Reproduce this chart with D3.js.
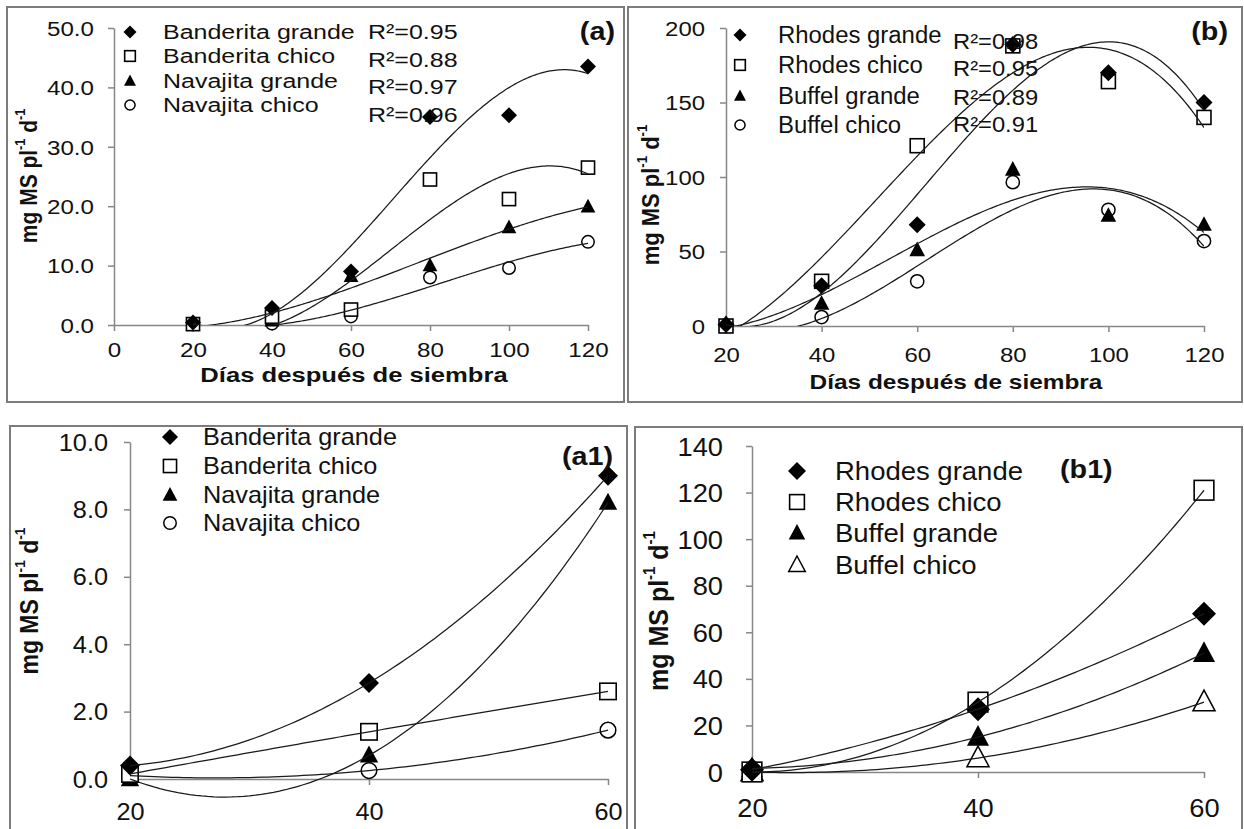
<!DOCTYPE html>
<html>
<head>
<meta charset="utf-8">
<script src="https://cdn.jsdelivr.net/npm/d3@7"></script>
<style>
  body { margin: 0; background: #fff; }
  svg { display: block; font-family: "Liberation Sans", Arial, sans-serif; }
</style>
</head>
<body>
<svg id="fig" width="1244" height="829"></svg>
<script>
// Dry matter accumulation, four grasses
const days = [20, 40, 60, 80, 100, 120];
const daysShort = [20, 40, 60];

const banderitaGrande = [0.4, 2.85, 9.0, 35.0, 35.3, 43.5];
const banderitaChico = [0.15, 1.4, 2.6, 24.5, 21.2, 26.5];
const navajitaGrande = [0.0, 0.7, 8.2, 10.0, 16.4, 19.9];
const navajitaChico = [0.1, 0.25, 1.45, 8.0, 9.6, 14.0];

const rhodesGrande = [1, 27, 68, 189, 170, 150];
const rhodesChico = [0, 30, 121, 188, 164, 140];
const buffelGrande = [1.5, 15, 51, 105, 74, 68];
const buffelChico = [0, 6, 30, 96.5, 78, 57];

const namesA = ["Banderita grande", "Banderita chico", "Navajita grande", "Navajita chico"];
const namesB = ["Rhodes grande", "Rhodes chico", "Buffel grande", "Buffel chico"];
const r2A = ["R²=0.95", "R²=0.88", "R²=0.97", "R²=0.96"];
const r2B = ["R²=0.98", "R²=0.95", "R²=0.89", "R²=0.91"];

const xTicksA = [0, 20, 40, 60, 80, 100, 120];
const xTicksB = [20, 40, 60, 80, 100, 120];
const xTicksShort = [20, 40, 60];
const yTicksA = [0, 10, 20, 30, 40, 50];
const yTicksB = [0, 50, 100, 150, 200];
const yTicksA1 = [0, 2, 4, 6, 8, 10];
const yTicksB1 = [0, 20, 40, 60, 80, 100, 120, 140];

const svg = d3.select("#fig");
const INK = "#111";

// the original figure is stretched sideways, so texts get a horizontal scale
function label(parent, x, y, str, o = {}) {
  const g = parent.append("g")
    .attr("transform", `translate(${x},${y}) scale(${o.sx || 1.15},1)`);
  return g.append("text")
    .attr("text-anchor", o.anchor || "start")
    .attr("dominant-baseline", "central")
    .attr("font-size", o.size || 20)
    .attr("font-weight", o.weight || "normal")
    .attr("fill", INK)
    .text(str);
}

function yTitle(parent, x, y, size) {
  const t = parent.append("g")
    .attr("transform", `translate(${x},${y}) scale(1.1,1) rotate(-90)`)
    .append("text")
    .attr("text-anchor", "middle")
    .attr("dominant-baseline", "central")
    .attr("font-weight", "bold")
    .attr("font-size", size)
    .attr("fill", INK);
  t.append("tspan").text("mg MS pl");
  t.append("tspan").attr("dy", -size * 0.38).attr("font-size", size * 0.6).text("-1");
  t.append("tspan").attr("dy", size * 0.38).text(" d");
  t.append("tspan").attr("dy", -size * 0.38).attr("font-size", size * 0.6).text("-1");
}

function marker(sel, type, r) {
  if (type === "diamond") {
    sel.append("path").attr("d", `M0,${-r}L${r},0L0,${r}L${-r},0Z`).attr("fill", "#000");
  } else if (type === "square") {
    const s = r * 0.82;
    sel.append("rect").attr("x", -s).attr("y", -s).attr("width", 2 * s).attr("height", 2 * s)
      .attr("fill", "#fff").attr("stroke", "#000").attr("stroke-width", 1.6);
  } else if (type === "triangle" || type === "triangleOpen") {
    const open = type === "triangleOpen";
    sel.append("path").attr("d", `M0,${-r}L${r * 0.92},${r * 0.72}L${-r * 0.92},${r * 0.72}Z`)
      .attr("fill", open ? "#fff" : "#000")
      .attr("stroke", open ? "#000" : "none").attr("stroke-width", 1.5);
  } else {
    sel.append("circle").attr("r", r * 0.78)
      .attr("fill", "#fff").attr("stroke", "#000").attr("stroke-width", 1.5);
  }
}

// least squares polynomial (Excel-style trendline)
function polyfit(xs, ys, deg) {
  const n = deg + 1;
  const A = Array.from({ length: n }, () => new Array(n + 1).fill(0));
  xs.forEach((xv, k) => {
    const t = xv / 100;
    for (let i = 0; i < n; i++) {
      for (let j = 0; j < n; j++) A[i][j] += Math.pow(t, i + j);
      A[i][n] += ys[k] * Math.pow(t, i);
    }
  });
  for (let c = 0; c < n; c++) {
    let p = c;
    for (let r = c + 1; r < n; r++) if (Math.abs(A[r][c]) > Math.abs(A[p][c])) p = r;
    [A[c], A[p]] = [A[p], A[c]];
    for (let r = 0; r < n; r++) {
      if (r === c) continue;
      const f = A[r][c] / A[c][c];
      for (let k = c; k <= n; k++) A[r][k] -= f * A[c][k];
    }
  }
  const coef = A.map((row, i) => row[n] / row[i]);
  return (xv) => coef.reduce((s, cf, i) => s + cf * Math.pow(xv / 100, i), 0);
}

function drawPanel(p) {
  const g = svg.append("g");

  g.append("rect")
    .attr("x", p.box[0]).attr("y", p.box[1])
    .attr("width", p.box[2] - p.box[0]).attr("height", p.box[3] - p.box[1])
    .attr("fill", "none").attr("stroke", "#7c7c7c").attr("stroke-width", 2);

  const x = d3.scaleLinear().domain(p.xDomain).range(p.xRange);
  const y = d3.scaleLinear().domain(p.yDomain).range(p.yRange);

  // axes
  const ya = g.append("g")
    .attr("transform", `translate(${x(p.xDomain[0])},0)`)
    .call(d3.axisLeft(y).tickValues(p.yTicks).tickFormat(d3.format(p.yFmt)).tickSize(6).tickSizeOuter(0));
  ya.selectAll("text")
    .attr("x", (p.yLabelRight - x(p.xDomain[0])) / p.tick.sx)
    .attr("dy", "0.35em")
    .attr("transform", `scale(${p.tick.sx},1)`);

  const xa = g.append("g")
    .attr("transform", `translate(0,${y(0)})`)
    .call(d3.axisBottom(x).tickValues(p.xTicks).tickFormat(d3.format("d")).tickSize(6).tickSizeOuter(0));
  xa.selectAll("text")
    .attr("y", p.xLabelY - y(0))
    .attr("dy", "0.35em")
    .attr("transform", `scale(${p.tick.sx},1)`);

  [ya, xa].forEach((a) => {
    a.attr("font-family", null).attr("font-size", p.tick.size);
    a.selectAll("path, line").attr("stroke", "#878787").attr("stroke-width", 1.5);
    a.selectAll("text").attr("fill", INK);
  });

  // markers (last series underneath, first on top)
  const order = d3.range(p.series.length).reverse();
  order.forEach((i) => {
    g.append("g").selectAll("g")
      .data(p.xs.map((d, j) => [d, p.series[i][j]]))
      .join("g")
      .attr("transform", (d) => `translate(${x(d[0])},${y(d[1])})`)
      .each(function () { marker(d3.select(this), p.markers[i], p.mr); });
  });

  // trend lines
  let lineLayer = g.append("g");
  if (p.clip) {
    svg.append("clipPath").attr("id", "clip-" + p.id)
      .append("rect")
      .attr("x", p.xRange[0]).attr("y", p.yRange[1])
      .attr("width", p.xRange[1] - p.xRange[0]).attr("height", p.yRange[0] - p.yRange[1]);
    lineLayer.attr("clip-path", `url(#clip-${p.id})`);
  }
  const line = d3.line().x((d) => x(d[0])).y((d) => y(d[1]));
  p.series.forEach((vals) => {
    const f = polyfit(p.xs, vals, p.degree);
    const xsFine = d3.range(p.xs[0], p.xs[p.xs.length - 1] + 0.01, 0.5);
    lineLayer.append("path")
      .attr("d", line(xsFine.map((v) => [v, f(v)])))
      .attr("fill", "none").attr("stroke", "#1a1a1a").attr("stroke-width", 1.25);
  });

  // legend
  p.names.forEach((name, i) => {
    const ly = p.legend.rows[i];
    const mg = g.append("g").attr("transform", `translate(${p.legend.mx},${ly})`);
    marker(mg, p.markers[i], p.legend.mr);
    label(g, p.legend.tx, ly, name, { size: p.legend.size, sx: p.legend.sx });
  });

  if (p.r2) {
    p.r2.labels.forEach((t, i) => {
      label(g, p.r2.x, p.r2.rows[i], t, { size: p.r2.size, sx: p.r2.sx });
    });
  }

  label(g, p.tag.x, p.tag.y, p.tag.text, { size: 25, weight: "bold", anchor: p.tag.anchor, sx: 1.15 });

  if (p.xTitle) {
    label(g, p.xTitle.x, p.xTitle.y, "Días después de siembra",
      { size: p.xTitle.size, weight: "bold", anchor: "middle", sx: p.xTitle.sx });
  }
  yTitle(g, p.yTitle.x, p.yTitle.y, p.yTitle.size);
}

const markersA = ["diamond", "square", "triangle", "circle"];
const markersB1 = ["diamond", "square", "triangle", "triangleOpen"];

drawPanel({
  id: "a", box: [7, 7, 624, 402],
  xDomain: [0, 120], xRange: [114, 588], yDomain: [0, 50], yRange: [325, 28],
  xTicks: xTicksA, yTicks: yTicksA, yFmt: ".1f",
  yLabelRight: 94, xLabelY: 350, tick: { size: 21, sx: 1.15 },
  xs: days, series: [banderitaGrande, banderitaChico, navajitaGrande, navajitaChico],
  names: namesA, markers: markersA, mr: 8, degree: 3, clip: true,
  legend: { mx: 130, tx: 163, rows: [32, 56, 81, 105], size: 20, sx: 1.25, mr: 6.5 },
  r2: { labels: r2A, x: 368, rows: [32, 60, 87, 115], size: 20, sx: 1.25 },
  tag: { text: "(a)", x: 615, y: 32, anchor: "end" },
  xTitle: { x: 354, y: 375, size: 21, sx: 1.22 },
  yTitle: { x: 29, y: 176, size: 21 }
});

drawPanel({
  id: "b", box: [628, 7, 1242, 402],
  xDomain: [20, 120], xRange: [726, 1204], yDomain: [0, 200], yRange: [326, 28],
  xTicks: xTicksB, yTicks: yTicksB, yFmt: "d",
  yLabelRight: 705, xLabelY: 355, tick: { size: 21, sx: 1.14 },
  xs: days, series: [rhodesGrande, rhodesChico, buffelGrande, buffelChico],
  names: namesB, markers: markersA, mr: 8.5, degree: 3, clip: true,
  legend: { mx: 740, tx: 778, rows: [35, 65, 96, 125], size: 23, sx: 1.04, mr: 6.5 },
  r2: { labels: r2B, x: 953, rows: [41, 68, 97, 124], size: 22, sx: 1.08 },
  tag: { text: "(b)", x: 1228, y: 32, anchor: "end" },
  xTitle: { x: 956, y: 382, size: 20, sx: 1.22 },
  yTitle: { x: 651, y: 195, size: 22 }
});

drawPanel({
  id: "a1", box: [10, 426, 627, 850],
  xDomain: [20, 60], xRange: [130, 608], yDomain: [0, 10], yRange: [779, 442],
  xTicks: xTicksShort, yTicks: yTicksA1, yFmt: ".1f",
  yLabelRight: 108, xLabelY: 812, tick: { size: 23, sx: 1.1 },
  xs: daysShort,
  series: [banderitaGrande, banderitaChico, navajitaGrande, navajitaChico].map((s) => s.slice(0, 3)),
  names: namesA, markers: markersA, mr: 10, degree: 2, clip: false,
  legend: { mx: 170, tx: 203, rows: [437, 466, 495, 523], size: 23, sx: 1.1, mr: 8 },
  tag: { text: "(a1)", x: 613, y: 457, anchor: "end" },
  yTitle: { x: 29, y: 601, size: 23 }
});

drawPanel({
  id: "b1", box: [635, 427, 1242, 850],
  xDomain: [20, 60], xRange: [752, 1204], yDomain: [0, 140], yRange: [772, 446],
  xTicks: xTicksShort, yTicks: yTicksB1, yFmt: "d",
  yLabelRight: 723, xLabelY: 808, tick: { size: 26, sx: 1.05 },
  xs: daysShort,
  series: [rhodesGrande, rhodesChico, buffelGrande, buffelChico].map((s) => s.slice(0, 3)),
  names: namesB, markers: markersB1, mr: 12, degree: 2, clip: false,
  legend: { mx: 797, tx: 835, rows: [471, 502, 533, 565], size: 25, sx: 1.1, mr: 9 },
  tag: { text: "(b1)", x: 1060, y: 470, anchor: "start" },
  yTitle: { x: 659, y: 611, size: 25 }
});
</script>
</body>
</html>
